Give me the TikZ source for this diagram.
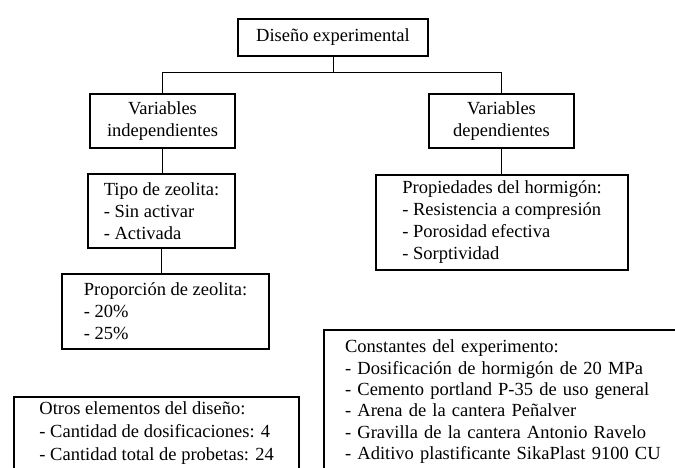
\documentclass[tikz,border=0pt]{standalone}
\usepackage{fontspec}
\setmainfont{Liberation Serif}
\usepackage{tikz}
\usetikzlibrary{positioning}

\begin{document}
\begin{tikzpicture}[
    x=1pt, y=-1pt,
    box/.style={draw, line width=2.2pt, align=center, inner sep=0pt, font=\fontsize{18.5}{22}\selectfont},
    listbox/.style={box, align=left},
    link/.style={line width=0.9pt}
]
    \useasboundingbox[fill=white] (0,0) rectangle (675,467);

    % Main boxes
    \node[box, minimum width=190pt, minimum height=37pt] (diseno) at (333,37.5) {Diseño experimental};
    \node[box, minimum width=145pt, minimum height=54pt] (indep) at (162.5,121) {Variables\\independientes};
    \node[box, minimum width=145pt, minimum height=54pt] (dep) at (501.5,121) {Variables\\dependientes};
    \node[listbox, minimum width=147pt, minimum height=74pt] (tipo) at (161.5,211) {Tipo de zeolita:\\- Sin activar\\- Activada};
    \node[listbox, minimum width=252pt, minimum height=95pt] (propiedades) at (502,222.5) {Propiedades del hormigón:\\- Resistencia a compresión\\- Porosidad efectiva\\- Sorptividad};
    \node[listbox, minimum width=207pt, minimum height=75pt] (proporcion) at (165.5,311.5) {Proporción de zeolita:\\- 20\%\\- 25\%};

    % Boxes cut by the lower edge
    \node[listbox, anchor=north west, text width=320pt, inner xsep=21pt, inner ysep=10pt, font=\fontsize{18.5}{21.3}\selectfont] (constantes) at (323,329) {Constantes del experimento:\\- Dosificación de hormigón de 20 MPa\\- Cemento portland P-35 de uso general\\- Arena de la cantera Peñalver\\- Gravilla de la cantera Antonio Ravelo\\- Aditivo plastificante SikaPlast 9100 CU\rule[-40pt]{0pt}{0pt}};
    \node[listbox, anchor=north west, minimum width=285pt, inner ysep=5pt, font=\fontsize{18.5}{23}\selectfont] (otros) at (13,396) {Otros elementos del diseño:\\- Cantidad de dosificaciones: 4\\- Cantidad total de probetas: 24\rule[-40pt]{0pt}{0pt}};

    % Connections
    \draw[link] (diseno.south) -- ++(0,15) -| (indep.north);
    \draw[link] (diseno.south) -- ++(0,15) -| (dep.north);
    \draw[link] (indep.south) -- (indep.south |- tipo.north);
    \draw[link] (dep.south) -- (dep.south |- propiedades.north);
    \draw[link] (tipo.south) -- (tipo.south |- proporcion.north);
\end{tikzpicture}
\end{document}
